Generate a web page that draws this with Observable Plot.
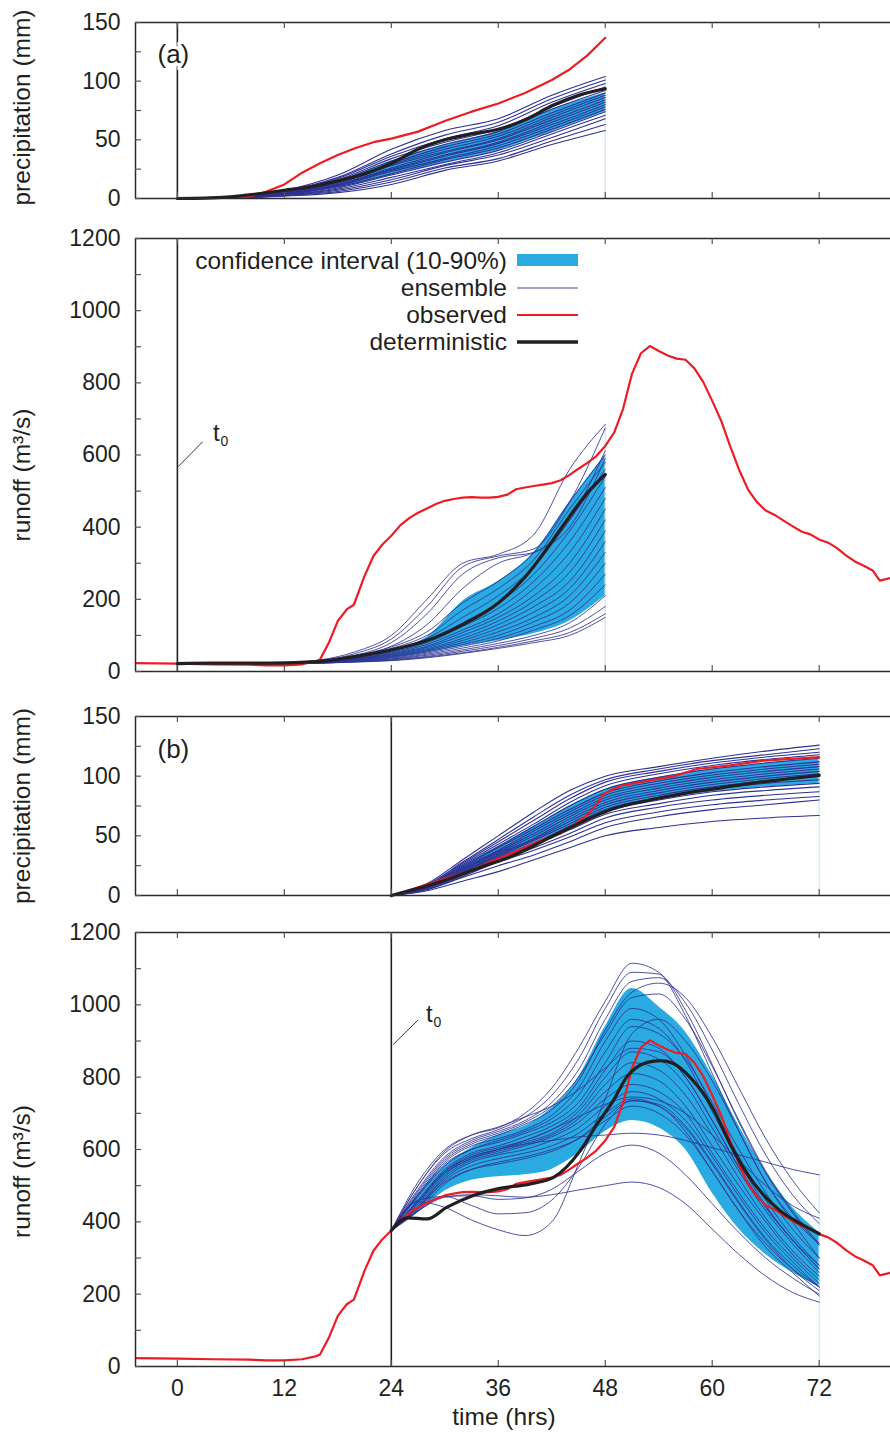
<!DOCTYPE html>
<html><head><meta charset="utf-8">
<script src="https://cdn.jsdelivr.net/npm/d3@7"></script>
<script src="https://cdn.jsdelivr.net/npm/@observablehq/plot@0.6"></script>
<style>
body{margin:0;background:#fff;}
#chart{width:890px;}
#chart svg{display:block;}
</style></head><body><div id="chart"></div>
<script>
// ---------------- DATA ----------------
const xTicks = [0, 12, 24, 36, 48, 60, 72];
const precipTicks = [0, 50, 100, 150];
const precipMinor = [0, 25, 50, 75, 100, 125, 150];
const runoffTicks = [0, 200, 400, 600, 800, 1000, 1200];
const runoffMinor = [0, 100, 200, 300, 400, 500, 600, 700, 800, 900, 1000, 1100, 1200];

// (a) precipitation ensemble, hours 0..48
const precipTimesA = [0, 6, 12, 18, 24, 30, 36, 42, 48];
const precipEnsA = [
  [0, 1.8, 7, 20, 42, 58, 68, 88, 104],
  [0, 1.6, 6.5, 18, 38, 54, 65, 85, 101],
  [0, 1.5, 6, 17, 36, 51, 62, 82, 98],
  [0, 1.4, 6, 16, 34, 48, 59, 78, 95],
  [0, 1.3, 5.5, 15, 32, 46, 57, 76, 92],
  [0, 1.2, 5, 14, 30, 44, 55, 73, 90],
  [0, 1.2, 5, 14, 29, 42, 53, 71, 88],
  [0, 1.1, 4.5, 13, 28, 40, 51, 69, 86],
  [0, 1.0, 4.5, 12, 26, 39, 50, 67, 84],
  [0, 1.0, 4, 12, 25, 37, 48, 65, 82],
  [0, 0.9, 4, 11, 24, 36, 47, 63, 80],
  [0, 0.9, 3.5, 11, 23, 34, 45, 61, 78],
  [0, 0.8, 3.5, 10, 21, 33, 43, 59, 76],
  [0, 0.8, 3, 9, 20, 31, 41, 57, 74],
  [0, 0.7, 3, 8, 18, 29, 39, 55, 71],
  [0, 0.6, 2.5, 7, 16, 28, 37, 52, 68],
  [0, 0.5, 2.5, 6, 14, 26, 34, 49, 63],
  [0, 0.5, 2, 5, 12, 24, 32, 46, 58]
];
const precipBandLoA = [0, 0.8, 3, 9, 20, 31, 41, 57, 74];
const precipBandHiA = [0, 1.4, 5.5, 15, 32, 46, 57, 76, 90];
const precipDetTimesA = [0, 3, 6, 9, 12, 15, 18, 21, 24, 27, 30, 33, 36, 39, 42, 45, 48];
const precipDetA = [0, 0.3, 1.5, 4, 7, 10, 15, 21, 30, 42, 50, 55, 59, 67, 79, 88, 93.5];
const precipObsTimesA = [0, 3, 6, 8, 10, 12, 14, 16, 18, 20, 22, 24, 27, 30, 33, 36, 39, 42, 44, 46, 48];
const precipObsA = [0, 0, 0.5, 1.5, 6, 12, 22, 30, 37, 43, 48, 51, 57, 66, 74, 81, 90, 101, 110, 122, 137];

// (a) runoff ensemble, hours 0..48
const runoffTimesA = [0, 4, 8, 12, 16, 20, 24, 28, 32, 36, 40, 44, 48];
const runoffEnsA = [
  [20, 21, 22, 24, 32, 55, 100, 200, 300, 325, 380, 560, 685],
  [20, 21, 22, 24, 30, 50, 90, 180, 290, 320, 340, 470, 675],
  [20, 21, 22, 23, 29, 45, 80, 160, 270, 315, 330, 420, 612],
  [20, 21, 21, 23, 28, 42, 70, 130, 230, 300, 330, 400, 590],
  [20, 21, 22, 24, 31, 45, 68, 110, 190, 250, 330, 470, 600],
  [20, 21, 22, 24, 30, 43, 64, 100, 170, 230, 310, 450, 580],
  [20, 21, 22, 24, 30, 42, 60, 92, 150, 210, 290, 420, 560],
  [20, 21, 21, 23, 29, 40, 57, 86, 135, 190, 270, 390, 540],
  [20, 21, 21, 23, 28, 38, 54, 80, 125, 175, 250, 360, 510],
  [20, 21, 21, 23, 28, 37, 51, 75, 115, 160, 230, 330, 480],
  [20, 20, 21, 23, 27, 36, 49, 70, 108, 150, 210, 300, 450],
  [20, 20, 21, 22, 27, 35, 47, 67, 100, 140, 195, 275, 420],
  [20, 20, 21, 22, 26, 34, 45, 63, 92, 130, 180, 250, 390],
  [20, 20, 21, 22, 26, 33, 43, 60, 86, 120, 165, 230, 360],
  [20, 20, 21, 22, 25, 32, 41, 57, 80, 110, 150, 210, 330],
  [20, 20, 21, 22, 25, 31, 39, 54, 75, 100, 138, 190, 300],
  [20, 20, 21, 22, 25, 30, 37, 51, 70, 92, 125, 170, 270],
  [20, 20, 21, 22, 24, 29, 35, 48, 65, 85, 115, 155, 240],
  [20, 20, 20, 21, 24, 28, 34, 45, 60, 78, 100, 135, 210],
  [20, 20, 20, 21, 23, 27, 32, 42, 56, 72, 92, 120, 180],
  [20, 20, 20, 21, 23, 27, 31, 40, 52, 67, 85, 108, 160],
  [20, 20, 20, 21, 23, 26, 30, 38, 50, 64, 80, 100, 150]
];
const runoffBandLoA = [20, 20, 20, 21, 23, 28, 36, 52, 70, 85, 105, 140, 210];
const runoffBandHiA = [20, 21, 22, 24, 30, 42, 60, 95, 195, 250, 330, 470, 600];
const runoffDetTimesA = [0, 4, 8, 12, 16, 20, 24, 28, 32, 36, 38, 40, 42, 44, 46, 48];
const runoffDetA = [22, 23, 23, 24, 28, 42, 60, 86, 130, 190, 235, 292, 360, 430, 495, 546];

// (b) precipitation ensemble, hours 24..72
const precipTimesB = [24, 28, 32, 36, 40, 44, 48, 54, 60, 66, 72];
const precipEnsB = [
  [0, 10, 30, 50, 70, 88, 100, 108, 115, 121, 126],
  [0, 9, 28, 47, 66, 84, 97, 106, 113, 118, 123],
  [0, 9, 27, 45, 63, 81, 95, 104, 111, 116, 120],
  [0, 8, 26, 43, 60, 78, 92, 102, 109, 114, 118],
  [0, 8, 25, 41, 58, 75, 89, 99, 106, 111, 115],
  [0, 8, 24, 40, 56, 72, 86, 96, 103, 108, 112],
  [0, 7, 23, 38, 54, 70, 84, 94, 101, 106, 110],
  [0, 7, 22, 37, 52, 68, 82, 92, 99, 104, 108],
  [0, 7, 22, 36, 50, 66, 80, 90, 97, 102, 106],
  [0, 7, 21, 35, 48, 64, 78, 88, 95, 100, 104],
  [0, 6, 20, 34, 47, 62, 76, 86, 93, 98, 102],
  [0, 6, 20, 33, 46, 60, 74, 84, 91, 96, 100],
  [0, 6, 19, 32, 44, 58, 72, 82, 89, 94, 97],
  [0, 6, 18, 31, 43, 56, 70, 80, 87, 91, 94],
  [0, 6, 18, 30, 42, 55, 68, 77, 84, 88, 91],
  [0, 5, 17, 29, 40, 52, 65, 74, 80, 84, 87],
  [0, 5, 16, 28, 38, 49, 61, 70, 76, 80, 83],
  [0, 5, 15, 25, 34, 45, 57, 66, 72, 76, 80],
  [0, 4, 12, 20, 30, 40, 50, 57, 62, 65, 67]
];
const precipBandLoB = [0, 6, 18, 31, 43, 56, 70, 80, 87, 91, 94];
const precipBandHiB = [0, 8, 25, 41, 58, 75, 89, 99, 106, 111, 115];
const precipDetTimesB = [24, 26, 30, 34, 37.7, 41.5, 45.2, 48.9, 52.7, 56.4, 60.2, 63.9, 67.6, 72];
const precipDetB = [0, 4, 12.6, 23.7, 33.5, 47.5, 61, 72.7, 79.6, 85, 89.4, 93.6, 97, 100.6];
const precipObsTimesB = [24, 26.5, 30, 33, 35, 37.7, 40.7, 43, 44.4, 45.9, 47.1, 47.8, 49.7, 52.7, 55.7, 58.3, 62, 65.8, 72];
const precipObsB = [0, 5.6, 14, 21, 28, 36, 46, 52, 59, 67, 77, 85, 92, 96, 100, 106, 109, 113, 116];

// (b) runoff ensemble, hours 24..72
const runoffTimesB = [24, 27, 30, 33, 36, 39, 42, 45, 48, 51, 54, 57, 60, 63, 66, 69, 72];
const runoffEnsB = [
  [376, 510, 600, 640, 660, 700, 770, 880, 1010, 1115, 1090, 970, 810, 650, 510, 400, 300],
  [376, 500, 590, 630, 655, 690, 750, 850, 990, 1090, 1085, 985, 835, 675, 535, 425, 335],
  [376, 490, 580, 625, 650, 680, 730, 820, 960, 1065, 1075, 1005, 875, 725, 585, 475, 395],
  [376, 480, 570, 615, 640, 670, 710, 790, 930, 1035, 1060, 1020, 910, 770, 630, 515, 425],
  [376, 485, 575, 620, 645, 675, 720, 800, 920, 1020, 1030, 960, 830, 680, 540, 430, 340],
  [376, 475, 565, 610, 630, 655, 695, 770, 900, 990, 960, 860, 720, 580, 460, 360, 280],
  [376, 470, 555, 600, 625, 650, 685, 750, 870, 960, 935, 845, 705, 565, 445, 350, 270],
  [376, 475, 560, 600, 620, 645, 675, 730, 840, 940, 920, 850, 730, 600, 480, 380, 300],
  [376, 460, 545, 590, 610, 635, 665, 715, 820, 900, 880, 800, 680, 550, 440, 350, 270],
  [376, 455, 540, 585, 605, 625, 655, 705, 800, 870, 850, 780, 660, 540, 430, 340, 260],
  [376, 450, 535, 580, 600, 620, 645, 695, 780, 840, 820, 750, 640, 520, 410, 320, 250],
  [376, 445, 530, 575, 595, 615, 640, 685, 760, 810, 790, 720, 610, 500, 400, 310, 240],
  [376, 440, 525, 570, 590, 610, 635, 675, 740, 780, 760, 700, 590, 480, 380, 300, 230],
  [376, 440, 520, 565, 585, 600, 625, 660, 720, 760, 740, 680, 580, 470, 370, 290, 220],
  [376, 435, 515, 555, 575, 590, 610, 645, 700, 740, 720, 660, 560, 450, 350, 270, 210],
  [376, 430, 505, 545, 565, 580, 600, 630, 680, 720, 700, 640, 540, 430, 330, 260, 195],
  [376, 440, 510, 545, 560, 575, 595, 630, 690, 735, 725, 665, 565, 455, 355, 280, 220],
  [376, 460, 540, 580, 600, 615, 625, 635, 640, 645, 640, 625, 605, 585, 565, 545, 530],
  [376, 455, 535, 575, 600, 625, 655, 690, 725, 745, 735, 700, 640, 570, 500, 445, 410],
  [376, 455, 440, 405, 378, 362, 400, 560, 740, 920, 960, 900, 790, 650, 510, 410, 340],
  [376, 460, 470, 445, 422, 425, 460, 550, 670, 735, 720, 650, 540, 430, 340, 270, 220],
  [376, 430, 468, 475, 472, 468, 475, 488, 500, 510, 495, 450, 380, 310, 250, 205, 178],
  [376, 430, 470, 472, 462, 466, 490, 540, 590, 612, 590, 530, 450, 370, 300, 245, 200],
  [376, 500, 595, 640, 662, 690, 720, 765, 825, 880, 870, 800, 680, 550, 440, 350, 280]
];
const runoffBandLoB = [376, 425, 485, 515, 525, 530, 545, 590, 650, 680, 660, 600, 480, 380, 310, 260, 220];
const runoffBandHiB = [376, 475, 555, 605, 640, 665, 715, 800, 940, 1045, 995, 925, 805, 665, 540, 440, 370];
const runoffDetTimesB = [24, 25.8, 28, 30.2, 33.2, 35.9, 39.6, 42.2, 45.2, 47.1, 48.9, 50.4, 52.7, 54.2, 55.7, 57.5, 60.2, 62, 63.9, 65.8, 67.6, 69.9, 72];
const runoffDetB = [376, 411, 408, 440, 473, 491, 505, 523, 597, 671, 735, 800, 841, 846, 837, 800, 708, 616, 533, 473, 431, 395, 367];

// observed runoff (same record in both panels)
const obsRunoffTimes = [-4.7, 0, 4, 8, 10, 12, 14, 15.5, 16, 17, 18, 19, 19.8, 21, 22, 23, 24, 25, 26, 27, 28, 29, 30, 31, 32, 33, 34, 35, 36, 37, 38, 39, 40, 41, 42, 43, 44, 45, 46, 47, 48, 49, 50, 51, 52, 53, 54, 55, 56, 57, 58, 59, 60, 61, 62, 63, 64, 65, 66, 67, 68, 69, 70, 71, 72, 73, 74, 75, 76, 77, 78, 78.8, 80];
const obsRunoff = [23, 22, 20, 19, 17, 17, 20, 28, 33, 80, 140, 172, 185, 265, 320, 352, 376, 405, 425, 440, 452, 464, 473, 478, 482, 483, 482, 482, 484, 490, 505, 510, 514, 518, 522, 530, 545, 562, 578, 597, 625, 662, 728, 825, 882, 902, 888, 876, 867, 864, 840, 802, 750, 695, 625, 560, 505, 470, 446, 434, 418, 403, 388, 380, 366, 357, 342, 322, 305, 293, 280, 252, 259];

// forecast start times and annotation anchors (data units)
const t0A = 0, t0B = 24;
const t0NoteA = [{x1: 0.1, y1: 568, x2: 2.84, y2: 637, tx: 4.0, ty: 660}];
const t0NoteB = [{x1: 24.2, y1: 890, x2: 27.0, y2: 958, tx: 27.9, ty: 973}];

const legendItems = [
  {label: "confidence interval (10-90%)", kind: "band"},
  {label: "ensemble", kind: "ens"},
  {label: "observed", kind: "obs"},
  {label: "deterministic", kind: "det"}
];

// ---------------- DRAWING ----------------
const W = 890, ML = 135;
const xDomain = [-4.7, 80];
const C = {ens: "#2e3192", band: "#29abe2", obs: "#ed1c24", det: "#231f20", frame: "#2b2b2b", tick: "#555555", artifact: "#bfe7f7"};
const FONT = "'Liberation Sans', Arial, Helvetica, sans-serif";
const fmt = d => String(d);

const tidy = (times, members) => members.flatMap((vals, m) => vals.map((v, i) => ({m, t: times[i], v})));
const pairs = (times, vals) => times.map((t, i) => ({t, v: vals[i]}));
const band = (times, lo, hi) => times.map((t, i) => ({t, lo: lo[i], hi: hi[i]}));

function legendMark(index, scales, values, dims) {
  const g = d3.create("svg:g").attr("font-family", FONT).attr("font-size", 24.5).attr("fill", "#231f20");
  const x0 = dims.marginLeft, y0 = dims.marginTop;
  legendItems.forEach((it, i) => {
    const cy = y0 + 22 + i * 27;
    g.append("text").attr("x", x0 + 372).attr("y", cy).attr("dy", "0.35em").attr("text-anchor", "end").text(it.label);
    if (it.kind === "band") {
      g.append("rect").attr("x", x0 + 382).attr("y", cy - 6).attr("width", 61).attr("height", 12).attr("fill", C.band);
    } else {
      const st = it.kind === "ens" ? [C.ens, 0.9] : it.kind === "obs" ? [C.obs, 2.2] : [C.det, 3.4];
      g.append("line").attr("x1", x0 + 382).attr("x2", x0 + 443).attr("y1", cy + 1).attr("y2", cy + 1)
        .attr("stroke", st[0]).attr("stroke-width", st[1]);
    }
  });
  return g.node();
}

function panel(cfg) {
  const fh = cfg.height - cfg.marginTop - cfg.marginBottom;
  const fw = W - ML;
  const ensData = tidy(cfg.ensTimes, cfg.ens);
  const ensEnd = cfg.ensTimes[cfg.ensTimes.length - 1];
  const ensMax = d3.max(cfg.ens, r => r[r.length - 1]);
  const marks = [
    Plot.areaY(band(cfg.ensTimes, cfg.lo, cfg.hi), {x: "t", y1: "lo", y2: "hi", fill: C.band, curve: "monotone-x"}),
    Plot.ruleX([ensEnd], {y1: 0, y2: ensMax, stroke: C.artifact, strokeWidth: 1}),
    Plot.line(ensData, {x: "t", y: "v", z: "m", stroke: C.ens, strokeWidth: cfg.ensWidth, curve: "monotone-x"}),
    Plot.line(cfg.obs, {x: "t", y: "v", stroke: C.obs, strokeWidth: 2.2, clip: true}),
    Plot.line(cfg.det, {x: "t", y: "v", stroke: C.det, strokeWidth: 3.2, curve: "monotone-x"}),
    Plot.ruleX([cfg.t0], {stroke: C.det, strokeWidth: 1.6}),
    Plot.ruleY(cfg.yDomain, {stroke: C.frame, strokeWidth: 1.5}),
    Plot.ruleX([xDomain[0]], {stroke: C.frame, strokeWidth: 1.5}),
    Plot.tickY(cfg.yMinor, {y: d => d, insetRight: fw - 6, stroke: C.tick, strokeWidth: 1.2}),
    Plot.tickX(xTicks, {x: d => d, insetBottom: fh - 6, stroke: C.tick, strokeWidth: 1.2}),
    Plot.tickX(xTicks, {x: d => d, insetTop: fh - 6, stroke: C.tick, strokeWidth: 1.2}),
    Plot.axisY(cfg.yTicks, {tickSize: 0, tickPadding: 15, fontSize: 23, label: null, tickFormat: fmt, fill: "#231f20"}),
    Plot.text([cfg.ylabel], {frameAnchor: "left", rotate: -90, textAnchor: "middle", dx: -113, dy: cfg.ylabelDy, fontSize: 24.5, fill: "#231f20"})
  ];
  if (cfg.letter) marks.push(Plot.text([cfg.letter], {frameAnchor: "top-left", dx: 22, dy: cfg.letterDy, textAnchor: "start", lineAnchor: "middle", fontSize: 26, fill: "#231f20", stroke: "white", strokeWidth: 7, paintOrder: "stroke"}));
  if (cfg.note) {
    marks.push(Plot.link(cfg.note, {x1: "x1", y1: "y1", x2: "x2", y2: "y2", stroke: C.det, strokeWidth: 0.9}));
    marks.push(Plot.text(cfg.note, {x: "tx", y: "ty", text: () => "t", textAnchor: "start", fontSize: 24, fill: "#231f20"}));
    marks.push(Plot.text(cfg.note, {x: "tx", y: "ty", text: () => "0", textAnchor: "start", fontSize: 14, dx: 7.5, dy: 8, fill: "#231f20"}));
  }
  if (cfg.legend) marks.push(legendMark);
  if (cfg.xAxis) {
    marks.push(Plot.axisX(xTicks, {tickSize: 0, tickPadding: 13, fontSize: 23, label: null, tickFormat: fmt, fill: "#231f20"}));
    marks.push(Plot.text(["time (hrs)"], {frameAnchor: "bottom", dx: -9, dy: 58, fontSize: 24.5, fill: "#231f20"}));
  }
  return Plot.plot({
    width: W, height: cfg.height,
    marginLeft: ML, marginRight: 0, marginTop: cfg.marginTop, marginBottom: cfg.marginBottom,
    style: {fontFamily: FONT, background: "white"},
    x: {domain: xDomain, ...(cfg.xAxis ? {} : {axis: null})},
    y: {domain: cfg.yDomain},
    marks
  });
}

const root = document.getElementById("chart");
root.append(panel({
  height: 218, marginTop: 22, marginBottom: 20, yDomain: [0, 150], yTicks: precipTicks, yMinor: precipMinor,
  ylabel: "precipitation (mm)", ylabelDy: -3, letter: "(a)", letterDy: 32, ensWidth: 1.1,
  ensTimes: precipTimesA, ens: precipEnsA, lo: precipBandLoA, hi: precipBandHiA,
  obs: pairs(precipObsTimesA, precipObsA), det: pairs(precipDetTimesA, precipDetA), t0: t0A
}));
root.append(panel({
  height: 472, marginTop: 20, marginBottom: 19, yDomain: [0, 1200], yTicks: runoffTicks, yMinor: runoffMinor,
  ylabel: "runoff (m³/s)", ylabelDy: 20, ensWidth: 0.85,
  ensTimes: runoffTimesA, ens: runoffEnsA, lo: runoffBandLoA, hi: runoffBandHiA,
  obs: pairs(obsRunoffTimes, obsRunoff), det: pairs(runoffDetTimesA, runoffDetA), t0: t0A,
  note: t0NoteA, legend: true
}));
root.append(panel({
  height: 222, marginTop: 26, marginBottom: 17, yDomain: [0, 150], yTicks: precipTicks, yMinor: precipMinor,
  ylabel: "precipitation (mm)", ylabelDy: 0, letter: "(b)", letterDy: 33, ensWidth: 1.1,
  ensTimes: precipTimesB, ens: precipEnsB, lo: precipBandLoB, hi: precipBandHiB,
  obs: pairs(precipObsTimesB, precipObsB), det: pairs(precipDetTimesB, precipDetB), t0: t0B
}));
root.append(panel({
  height: 524, marginTop: 20, marginBottom: 70, yDomain: [0, 1200], yTicks: runoffTicks, yMinor: runoffMinor,
  ylabel: "runoff (m³/s)", ylabelDy: 22, ensWidth: 0.85,
  ensTimes: runoffTimesB, ens: runoffEnsB, lo: runoffBandLoB, hi: runoffBandHiB,
  obs: pairs(obsRunoffTimes, obsRunoff), det: pairs(runoffDetTimesB, runoffDetB), t0: t0B,
  note: t0NoteB, xAxis: true
}));
</script></body></html>
